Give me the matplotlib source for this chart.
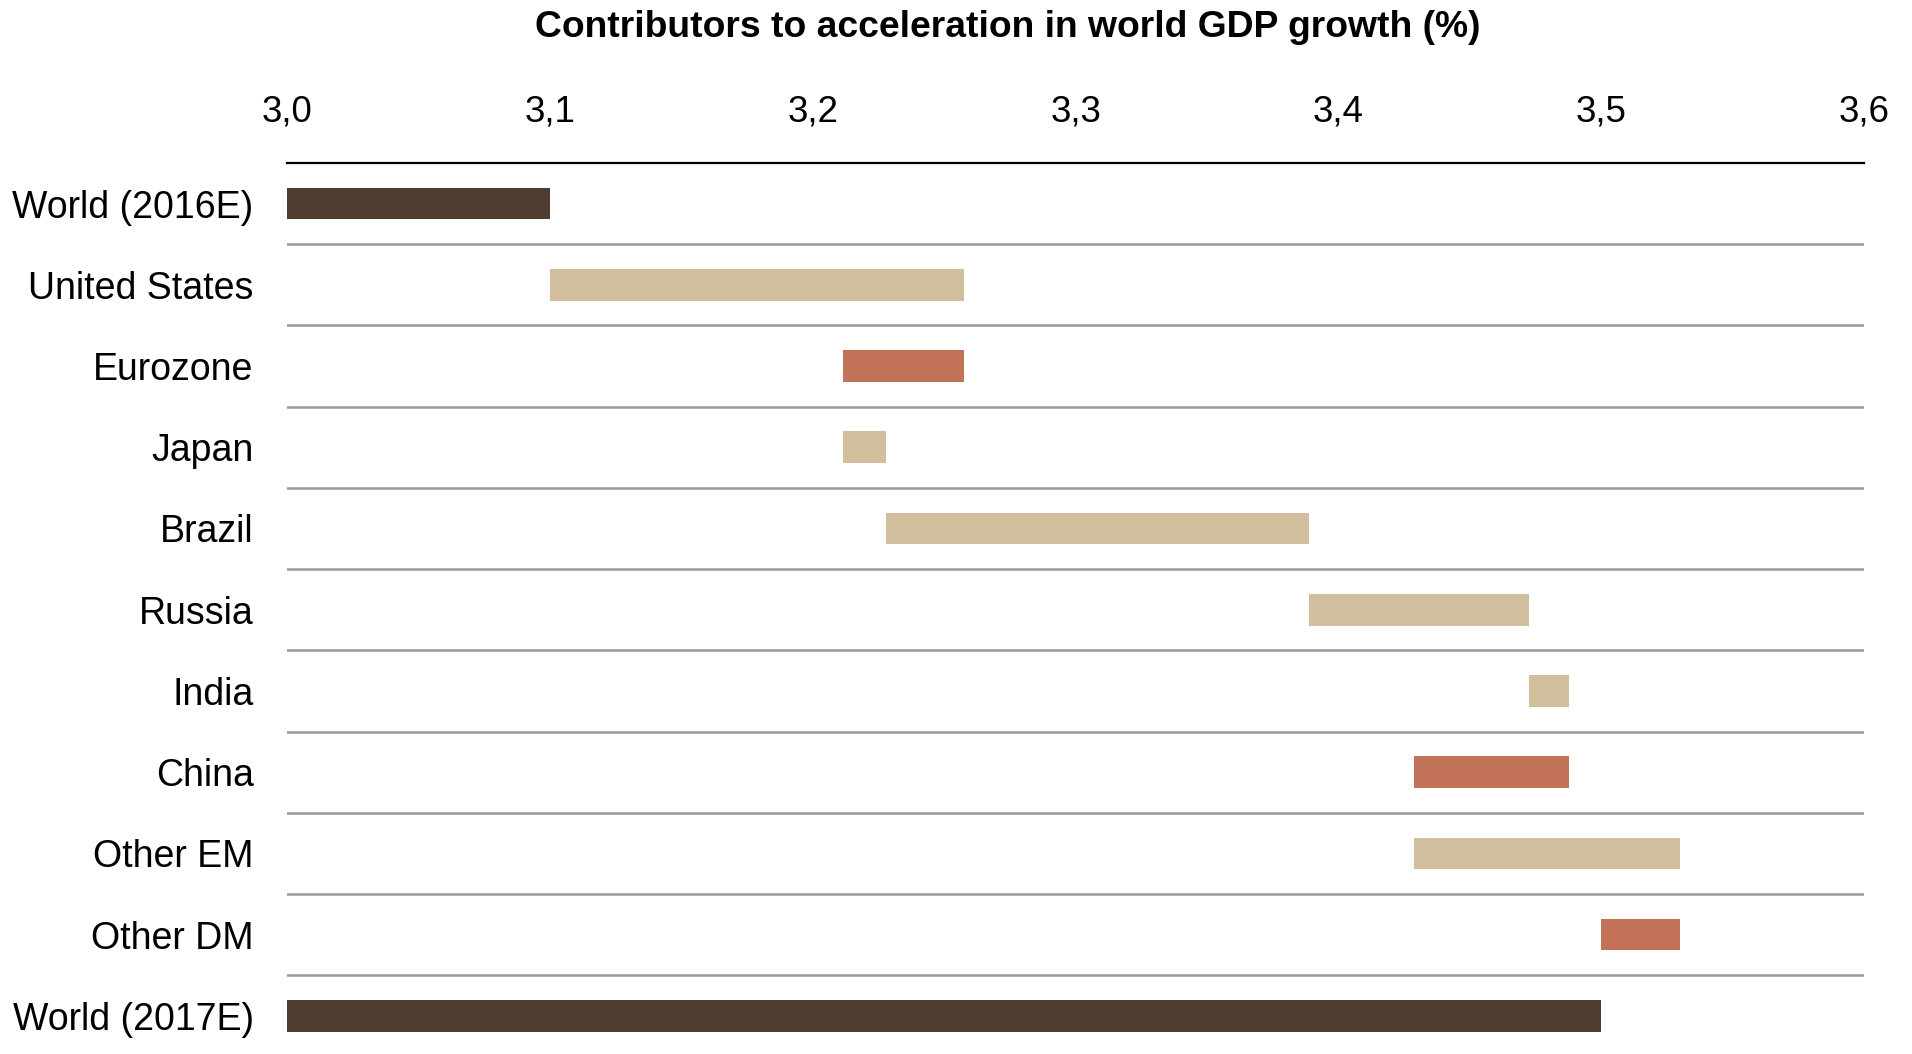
import matplotlib.pyplot as plt
import numpy as np

plt.rcParams['font.family'] = ['Liberation Sans', 'DejaVu Sans']

# waterfall data: start total, contributions, end total
regions = ['United States', 'Eurozone', 'Japan', 'Brazil', 'Russia',
           'India', 'China', 'Other EM', 'Other DM']
contrib = [0.1575, -0.0459, 0.0162, 0.1611, 0.0835, 0.0153, -0.0589, 0.1012, -0.030]
world_2016 = 3.1
world_2017 = 3.5
axis_min = 3.0
ticks = [3.0, 3.1, 3.2, 3.3, 3.4, 3.5, 3.6]
tick_labels = ['3,0', '3,1', '3,2', '3,3', '3,4', '3,5', '3,6']

dark = '#4F3D31'
tan = '#D1BE9C'
red = '#C27256'

labels = ['World (2016E)'] + regions + ['World (2017E)']
lefts = [axis_min]
widths = [world_2016 - axis_min]
colors = [dark]
level = world_2016
for c in contrib:
    lefts.append(min(level, level + c))
    widths.append(abs(c))
    colors.append(tan if c > 0 else red)
    level += c
lefts.append(axis_min)
widths.append(world_2017 - axis_min)
colors.append(dark)

fig = plt.figure(figsize=(19.12, 10.54), dpi=100)
ax = fig.add_axes([0.1501, 0.0, 0.825, 0.8454])

y = np.arange(len(labels))
ax.barh(y, widths, left=lefts, height=0.39, color=colors)

for b in np.arange(0.5, len(labels) - 1, 1.0):
    ax.axhline(b, color='#999999', lw=1.8, zorder=0)

ax.set_xlim(3.0, 3.6)
ax.set_ylim(10.47, -0.5)
ax.set_yticks(y)
ax.set_yticklabels(labels, fontsize=27)
ax.xaxis.tick_top()
ax.set_xticks(ticks)
ax.set_xticklabels(tick_labels, fontsize=26.5)
ax.tick_params(axis='both', length=0)
ax.tick_params(axis='x', pad=24)
ax.tick_params(axis='y', pad=24)
for s in ['left', 'right', 'bottom']:
    ax.spines[s].set_visible(False)
ax.spines['top'].set_linewidth(1.6)
ax.spines['top'].set_color('black')

fig.text(0.527, 0.974, 'Contributors to acceleration in world GDP growth (%)',
         ha='center', va='center', fontsize=26.8, fontweight='bold')

fig.savefig('out.png', dpi=100)
